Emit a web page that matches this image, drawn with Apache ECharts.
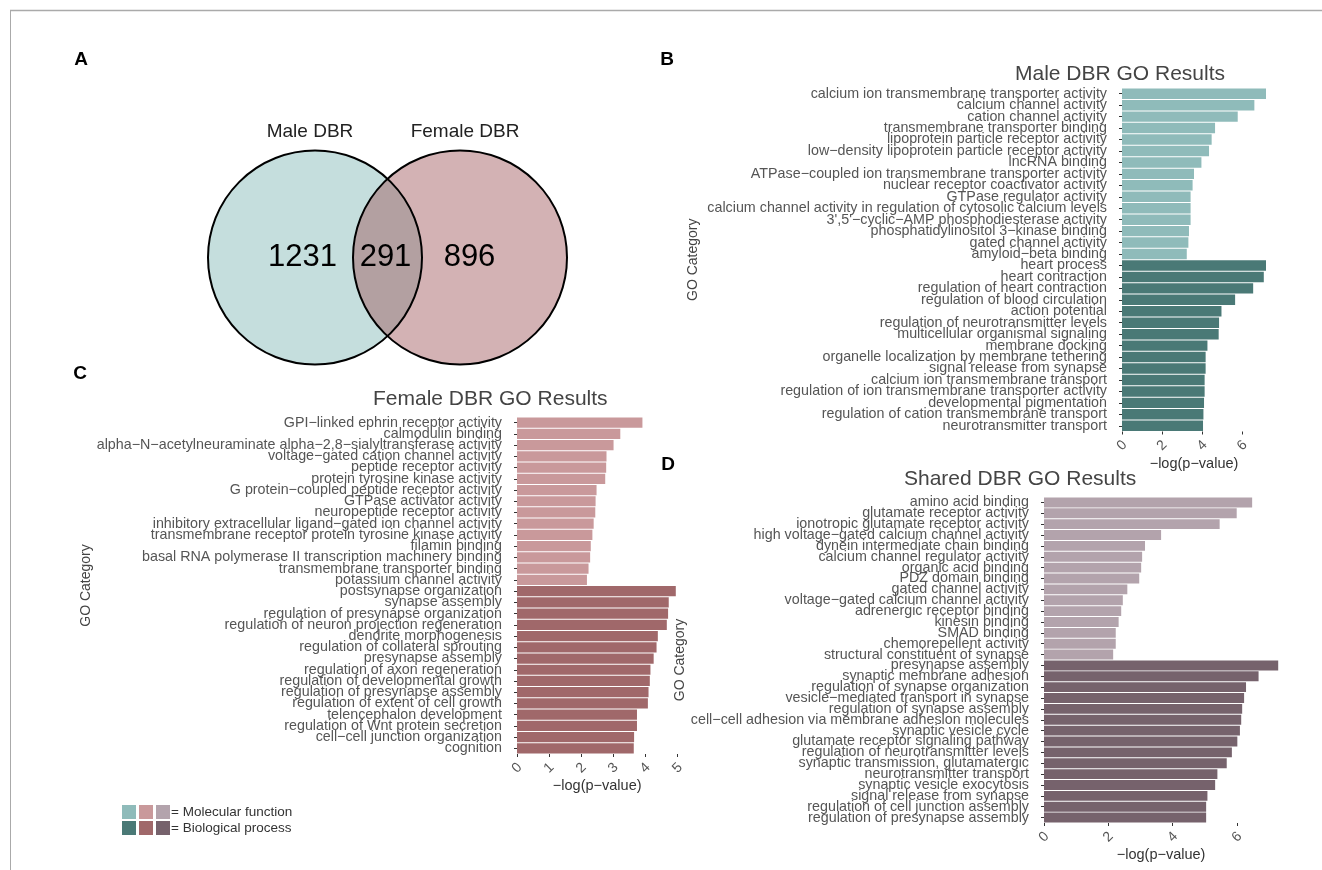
<!DOCTYPE html>
<html>
<head>
<meta charset="utf-8">
<script src="https://cdn.jsdelivr.net/npm/echarts@6/dist/echarts.min.js"></script>
<style>
html,body{margin:0;padding:0;background:#fff;}
#chart{width:1322px;height:870px;}
</style>
</head>
<body>
<div id="chart"></div>
<script>
// ---------- DATA ----------
const vennSets = ['Male DBR', 'Female DBR'];
const vennCounts = [1231, 291, 896];

const maleMFLabels = ['calcium ion transmembrane transporter activity','calcium channel activity','cation channel activity','transmembrane transporter binding','lipoprotein particle receptor activity','low−density lipoprotein particle receptor activity','lncRNA binding','ATPase−coupled ion transmembrane transporter activity','nuclear receptor coactivator activity','GTPase regulator activity','calcium channel activity in regulation of cytosolic calcium levels',"3',5'−cyclic−AMP phosphodiesterase activity",'phosphatidylinositol 3−kinase binding','gated channel activity','amyloid−beta binding'];
const maleMFValues = [7.18, 6.60, 5.77, 4.64, 4.47, 4.34, 3.96, 3.59, 3.52, 3.42, 3.42, 3.42, 3.34, 3.31, 3.23];
const maleBPLabels = ['heart process','heart contraction','regulation of heart contraction','regulation of blood circulation','action potential','regulation of neurotransmitter levels','multicellular organismal signaling','membrane docking','organelle localization by membrane tethering','signal release from synapse','calcium ion transmembrane transport','regulation of ion transmembrane transporter activity','developmental pigmentation','regulation of cation transmembrane transport','neurotransmitter transport'];
const maleBPValues = [7.18, 7.07, 6.54, 5.64, 4.96, 4.84, 4.82, 4.26, 4.17, 4.17, 4.12, 4.12, 4.09, 4.06, 4.04];

const femaleMFLabels = ['GPI−linked ephrin receptor activity','calmodulin binding','alpha−N−acetylneuraminate alpha−2,8−sialyltransferase activity','voltage−gated cation channel activity','peptide receptor activity','protein tyrosine kinase activity','G protein−coupled peptide receptor activity','GTPase activator activity','neuropeptide receptor activity','inhibitory extracellular ligand−gated ion channel activity','transmembrane receptor protein tyrosine kinase activity','filamin binding','basal RNA polymerase II transcription machinery binding','transmembrane transporter binding','potassium channel activity'];
const femaleMFValues = [3.91, 3.22, 3.01, 2.79, 2.78, 2.75, 2.48, 2.45, 2.44, 2.39, 2.35, 2.30, 2.28, 2.23, 2.18];
const femaleBPLabels = ['postsynapse organization','synapse assembly','regulation of presynapse organization','regulation of neuron projection regeneration','dendrite morphogenesis','regulation of collateral sprouting','presynapse assembly','regulation of axon regeneration','regulation of developmental growth','regulation of presynapse assembly','regulation of extent of cell growth','telencephalon development','regulation of Wnt protein secretion','cell−cell junction organization','cognition'];
const femaleBPValues = [4.95, 4.73, 4.71, 4.67, 4.39, 4.35, 4.26, 4.16, 4.14, 4.10, 4.08, 3.74, 3.74, 3.65, 3.64];

const sharedMFLabels = ['amino acid binding','glutamate receptor activity','ionotropic glutamate receptor activity','high voltage−gated calcium channel activity','dynein intermediate chain binding','calcium channel regulator activity','organic acid binding','PDZ domain binding','gated channel activity','voltage−gated calcium channel activity','adrenergic receptor binding','kinesin binding','SMAD binding','chemorepellent activity','structural constituent of synapse'];
const sharedMFValues = [6.47, 5.99, 5.46, 3.64, 3.14, 3.05, 3.02, 2.96, 2.59, 2.45, 2.40, 2.32, 2.23, 2.23, 2.15];
const sharedBPLabels = ['presynapse assembly','synaptic membrane adhesion','regulation of synapse organization','vesicle−mediated transport in synapse','regulation of synapse assembly','cell−cell adhesion via membrane adhesion molecules','synaptic vesicle cycle','glutamate receptor signaling pathway','regulation of neurotransmitter levels','synaptic transmission, glutamatergic','neurotransmitter transport','synaptic vesicle exocytosis','signal release from synapse','regulation of cell junction assembly','regulation of presynapse assembly'];
const sharedBPValues = [7.28, 6.67, 6.28, 6.22, 6.16, 6.13, 6.09, 6.01, 5.84, 5.68, 5.39, 5.32, 5.08, 5.04, 5.04];

const xTicksMale = [0, 2, 4, 6];
const xTicksFemale = [0, 1, 2, 3, 4, 5];
const xTicksShared = [0, 2, 4, 6];

const panelTitles = ['Male DBR GO Results', 'Female DBR GO Results', 'Shared DBR GO Results'];
const legendTexts = ['= Molecular function', '= Biological process'];

// ---------- STYLE ----------
const FONT = 'Liberation Sans, Arial, Helvetica, sans-serif';
const colMale = ['#8fbbba', '#4a7976'];
const colFemale = ['#c9999b', '#a0686a'];
const colShared = ['#b3a3ac', '#76626c'];

const chart = echarts.init(document.getElementById('chart'), null, {renderer: 'canvas'});

function barData(mfVals, bpVals, cols) {
  return mfVals.map(v => ({value: v, itemStyle: {color: cols[0]}}))
    .concat(bpVals.map(v => ({value: v, itemStyle: {color: cols[1]}})));
}

function yAx(gi, labels, nameGap) {
  return {
    type: 'category', gridIndex: gi, data: labels, inverse: true, offset: 10,
    axisLine: {show: false},
    axisTick: {show: true, length: 3, alignWithLabel: true, interval: 0, lineStyle: {color: '#333', width: 1}},
    axisLabel: {interval: 0, fontSize: 14.3, color: '#555', margin: 5, fontFamily: FONT},
    name: 'GO Category', nameLocation: 'middle', nameRotate: 90, nameGap: nameGap,
    nameTextStyle: {fontSize: 14, color: '#444', fontFamily: FONT}
  };
}
function xAx(gi, ticks, max, interval, nameGap) {
  return {
    type: 'value', gridIndex: gi, min: 0, max: max, interval: interval,
    splitLine: {show: false}, axisLine: {show: false},
    axisTick: {show: true, length: 3, customValues: ticks, lineStyle: {color: '#333', width: 1}},
    axisLabel: {customValues: ticks, rotate: 45, align: 'center', verticalAlign: 'middle', margin: 14,
                fontSize: 14, color: '#555', fontFamily: FONT, showMaxLabel: true, showMinLabel: true},
    name: '−log(p−value)', nameLocation: 'middle', nameGap: nameGap,
    nameTextStyle: {fontSize: 14.5, color: '#333', fontFamily: FONT}
  };
}

const gridCommon = {containLabel: false, outerBoundsMode: 'none'};

const option = {
  animation: false,
  backgroundColor: '#ffffff',
  grid: [
    Object.assign({left: 1122, top: 88, width: 144, height: 343.5}, gridCommon),
    Object.assign({left: 517, top: 417, width: 160.4, height: 337}, gridCommon),
    Object.assign({left: 1044, top: 497, width: 234.2, height: 326}, gridCommon),
    Object.assign({left: 187.5, top: 157.5, width: 400, height: 200}, gridCommon)
  ],
  xAxis: [
    xAx(0, xTicksMale, 'dataMax', 2, 23),
    xAx(1, xTicksFemale, 5, 1, 24),
    xAx(2, xTicksShared, 'dataMax', 2, 22),
    {type: 'value', gridIndex: 3, min: -2, max: 2, show: false}
  ],
  yAxis: [
    yAx(0, maleMFLabels.concat(maleBPLabels), 412),
    yAx(1, femaleMFLabels.concat(femaleBPLabels), 412),
    yAx(2, sharedMFLabels.concat(sharedBPLabels), 337),
    {type: 'value', gridIndex: 3, min: -1, max: 1, show: false}
  ],
  series: [
    {type: 'bar', xAxisIndex: 0, yAxisIndex: 0, data: barData(maleMFValues, maleBPValues, colMale), barCategoryGap: '9%', silent: true},
    {type: 'bar', xAxisIndex: 1, yAxisIndex: 1, data: barData(femaleMFValues, femaleBPValues, colFemale), barCategoryGap: '9%', silent: true},
    {type: 'bar', xAxisIndex: 2, yAxisIndex: 2, data: barData(sharedMFValues, sharedBPValues, colShared), barCategoryGap: '9%', silent: true},
    // Venn fills
    {type: 'scatter', xAxisIndex: 3, yAxisIndex: 3, symbol: 'circle', symbolSize: 214, silent: true, z: 1,
     itemStyle: {opacity: 1},
     data: [
       {name: vennSets[0], value: [-0.725, 0], itemStyle: {color: '#c5dedd', opacity: 1}},
       {name: vennSets[1], value: [0.725, 0], itemStyle: {color: 'rgba(159,88,92,0.46)', opacity: 1}}
     ]},
    // Venn outlines
    {type: 'scatter', xAxisIndex: 3, yAxisIndex: 3, symbol: 'circle', symbolSize: 214, silent: true, z: 2,
     itemStyle: {color: 'rgba(0,0,0,0)', borderColor: '#000', borderWidth: 2, opacity: 1},
     data: [[-0.725, 0], [0.725, 0]]},
    // Venn counts
    {type: 'scatter', xAxisIndex: 3, yAxisIndex: 3, symbolSize: 1, silent: true, z: 3,
     itemStyle: {color: 'rgba(0,0,0,0)', opacity: 1},
     label: {show: true, position: 'inside', formatter: p => String(p.value[2]), fontSize: 31, color: '#000', fontFamily: FONT},
     data: [[-0.85, 0, vennCounts[0]], [-0.02, 0, vennCounts[1]], [0.82, 0, vennCounts[2]]]}
  ],
  graphic: [
    {type: 'line', shape: {x1: 10, y1: 10.5, x2: 1322, y2: 10.5}, style: {stroke: '#aaaaaa', lineWidth: 1.5}, silent: true},
    {type: 'line', shape: {x1: 10.5, y1: 10, x2: 10.5, y2: 870}, style: {stroke: '#aaaaaa', lineWidth: 1}, silent: true},
    {type: 'text', x: 81, y: 60, style: {text: 'A', font: 'bold 19px ' + FONT, fill: '#000', align: 'center', verticalAlign: 'middle'}},
    {type: 'text', x: 667, y: 60, style: {text: 'B', font: 'bold 19px ' + FONT, fill: '#000', align: 'center', verticalAlign: 'middle'}},
    {type: 'text', x: 80, y: 374, style: {text: 'C', font: 'bold 19px ' + FONT, fill: '#000', align: 'center', verticalAlign: 'middle'}},
    {type: 'text', x: 668, y: 465, style: {text: 'D', font: 'bold 19px ' + FONT, fill: '#000', align: 'center', verticalAlign: 'middle'}},
    {type: 'text', x: 310, y: 132, style: {text: vennSets[0], font: '19px ' + FONT, fill: '#222', align: 'center', verticalAlign: 'middle'}},
    {type: 'text', x: 465, y: 132, style: {text: vennSets[1], font: '19px ' + FONT, fill: '#222', align: 'center', verticalAlign: 'middle'}},
    {type: 'text', x: 1015, y: 74, style: {text: panelTitles[0], font: '21px ' + FONT, fill: '#444', align: 'left', verticalAlign: 'middle'}},
    {type: 'text', x: 373, y: 399, style: {text: panelTitles[1], font: '21px ' + FONT, fill: '#444', align: 'left', verticalAlign: 'middle'}},
    {type: 'text', x: 904, y: 479, style: {text: panelTitles[2], font: '21px ' + FONT, fill: '#444', align: 'left', verticalAlign: 'middle'}},
    {type: 'rect', shape: {x: 122, y: 805, width: 14, height: 14}, style: {fill: colMale[0]}},
    {type: 'rect', shape: {x: 139, y: 805, width: 14, height: 14}, style: {fill: colFemale[0]}},
    {type: 'rect', shape: {x: 156, y: 805, width: 14, height: 14}, style: {fill: colShared[0]}},
    {type: 'rect', shape: {x: 122, y: 821, width: 14, height: 14}, style: {fill: colMale[1]}},
    {type: 'rect', shape: {x: 139, y: 821, width: 14, height: 14}, style: {fill: colFemale[1]}},
    {type: 'rect', shape: {x: 156, y: 821, width: 14, height: 14}, style: {fill: colShared[1]}},
    {type: 'text', x: 171, y: 812.5, style: {text: legendTexts[0], font: '13.5px ' + FONT, fill: '#333', align: 'left', verticalAlign: 'middle'}},
    {type: 'text', x: 171, y: 828.5, style: {text: legendTexts[1], font: '13.5px ' + FONT, fill: '#333', align: 'left', verticalAlign: 'middle'}}
  ]
};
chart.setOption(option);
</script>
</body>
</html>
